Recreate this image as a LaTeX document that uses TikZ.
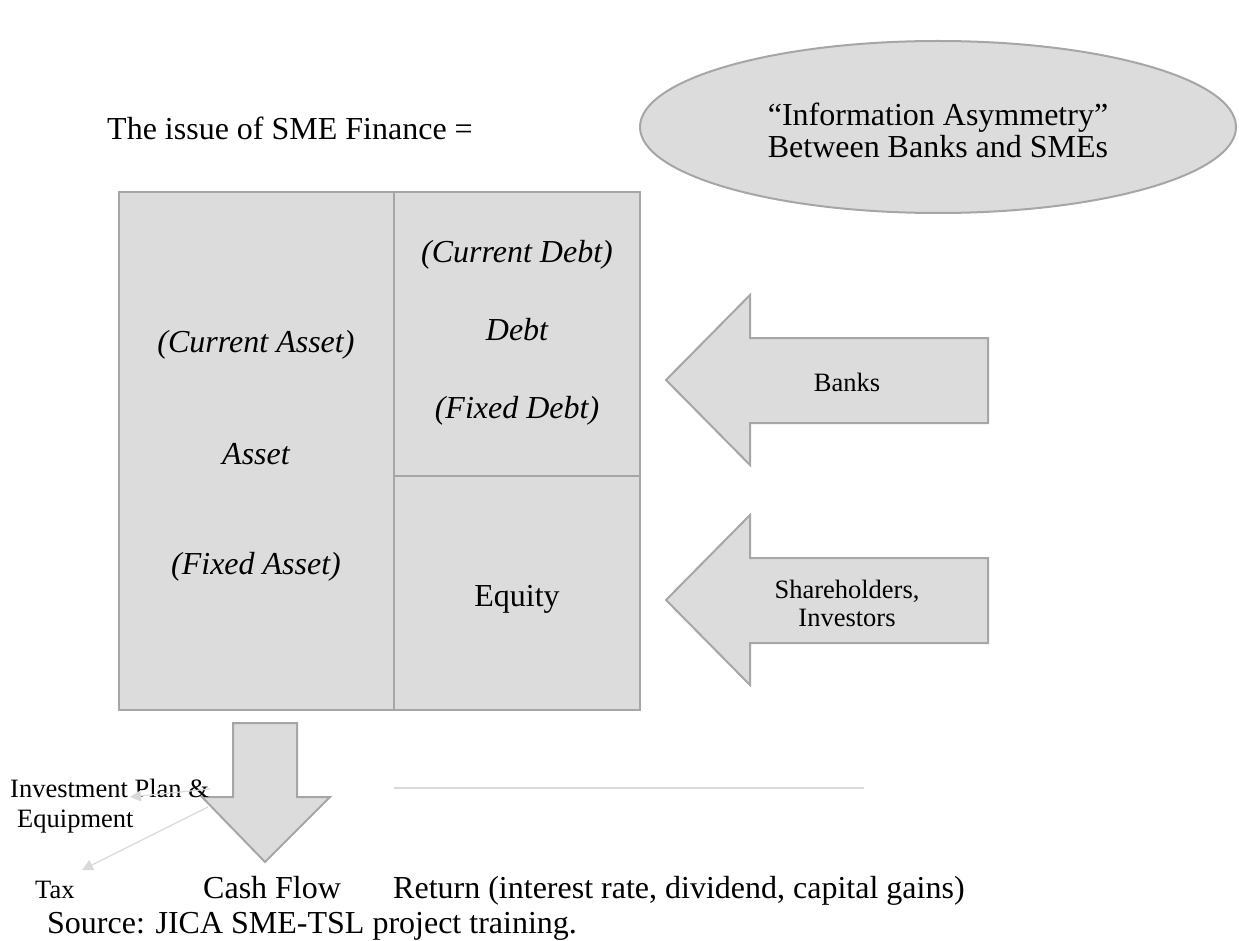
\documentclass[tikz,border=0pt]{standalone}
\usepackage{fontspec}
\setmainfont{Liberation Serif}
\usetikzlibrary{arrows.meta}
\definecolor{boxfill}{HTML}{DCDCDC}
\definecolor{boxline}{HTML}{A6A6A6}
\definecolor{faint}{HTML}{D9D9D9}
\tikzset{
  panel/.style={draw=boxline, fill=boxfill, line width=2pt, line join=miter},
  bigtxt/.style={font=\fontsize{32}{36}\selectfont, inner sep=0pt},
  bigit/.style={font=\fontsize{32}{36}\selectfont\itshape, inner sep=0pt},
  smalltxt/.style={font=\fontsize{26.5}{28}\selectfont, align=center, inner sep=0pt},
  faintarrow/.style={draw=faint, line width=1.2pt, -{Triangle[length=11pt,width=11pt]}}
}
\begin{document}
\begin{tikzpicture}[x=1pt,y=-1pt]
\useasboundingbox (0,0) rectangle (1239,941);

% title
\node[bigtxt, anchor=base west] (title) at (107,140) {The issue of SME Finance =};

% ellipse
\draw[panel] (938,127) ellipse [x radius=298, y radius=86];
\node[bigtxt, align=center, anchor=center, font=\fontsize{32}{32}\selectfont] (asym) at (938,130)
  {``Information Asymmetry''\\Between Banks and SMEs};

% balance sheet
\draw[panel] (119,192) rectangle (394,710);
\draw[panel] (394,192) rectangle (640,476);
\draw[panel] (394,476) rectangle (640,710);

\node[bigit, anchor=base] (ca) at (256,352) {(Current Asset)};
\node[bigit, anchor=base] (as) at (256,464) {Asset};
\node[bigit, anchor=base] (fa) at (256,574) {(Fixed Asset)};
\node[bigit, anchor=base] (cd) at (517,262) {(Current Debt)};
\node[bigit, anchor=base] (db) at (517,340) {Debt};
\node[bigit, anchor=base] (fd) at (517,418) {(Fixed Debt)};
\node[bigtxt, anchor=base] (eq) at (517,606) {Equity};

% banks arrow
\draw[panel] (666,380) -- (750,295) -- (750,338) -- (988,338) -- (988,423) -- (750,423) -- (750,465) -- cycle;
\node[smalltxt] (banks) at (847,382) {Banks};

% shareholders arrow
\draw[panel] (666,600) -- (750,515) -- (750,558) -- (988,558) -- (988,643) -- (750,643) -- (750,685) -- cycle;
\node[smalltxt] (share) at (847,603) {Shareholders,\\Investors};

% cash flow arrow
\draw[panel] (233,723) -- (297,723) -- (297,797) -- (330,797) -- (265,862) -- (202,797) -- (233,797) -- cycle;

% thin line
\coordinate (lineA) at (394,788);
\coordinate (lineB) at (864,788);
\draw[draw=faint, line width=1.5pt] (lineA) -- (lineB);

% labels
\node[smalltxt, anchor=base west, align=left] (inv) at (10,797) {Investment Plan \&};
\node[smalltxt, anchor=base west] (equip) at (17,827) {Equipment};
\node[smalltxt, anchor=base west] (tax) at (35,898) {Tax};
\node[bigtxt, anchor=base west] (cf) at (203,898) {Cash Flow};
\node[bigtxt, anchor=base west] (ret) at (393,898) {Return (interest rate, dividend, capital gains)};
\node[bigtxt, anchor=base west] (src) at (47,933) {Source: JICA SME-TSL project training.};

% faint arrows
\coordinate (fa1) at (210,789);
\coordinate (fa2) at (208,807);
\coordinate (invtip) at (130,797);
\coordinate (taxtip) at (82,870);
\draw[faintarrow] (fa1) -- (invtip);
\draw[faintarrow] (fa2) -- (taxtip);
\end{tikzpicture}
\end{document}
